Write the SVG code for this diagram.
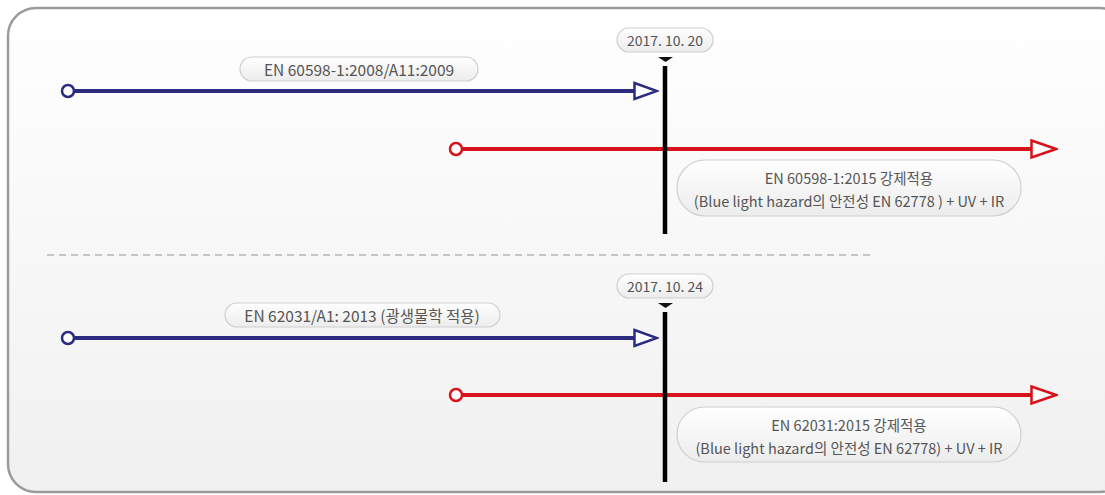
<svg xmlns="http://www.w3.org/2000/svg" width="1105" height="495" viewBox="0 0 1105 495">
<defs>
<linearGradient id="bg" x1="0" y1="0" x2="0" y2="1">
<stop offset="0" stop-color="#ffffff"/>
<stop offset="1" stop-color="#f0f0f0"/>
</linearGradient>
<linearGradient id="pill" x1="0" y1="0" x2="0" y2="1">
<stop offset="0" stop-color="#ffffff"/>
<stop offset="1" stop-color="#ececec"/>
</linearGradient>
<marker id="arrBlue" viewBox="0 0 26 20" refX="1" refY="10" markerWidth="26" markerHeight="20" markerUnits="userSpaceOnUse" orient="auto">
<path d="M1.5,2 L24,10 L1.5,18 Z" fill="#ffffff" stroke="#2b2b80" stroke-width="2.5" stroke-linejoin="miter"/>
</marker>
<marker id="arrRed" viewBox="0 0 28 20" refX="1" refY="10" markerWidth="28" markerHeight="20" markerUnits="userSpaceOnUse" orient="auto">
<path d="M1.5,1.5 L26,10 L1.5,18.5 Z" fill="#ffffff" stroke="#d7121b" stroke-width="2.5" stroke-linejoin="miter"/>
</marker>
</defs>
<style>
.txt{font-family:"Noto Sans CJK KR","Noto Sans",sans-serif;font-size:14.5px;fill:#555555;text-anchor:middle;dominant-baseline:central}
.lbl{font-size:15.5px}
.dt{font-size:14px}
.pill{fill:url(#pill);stroke:#cfcfcf;stroke-width:1.2}
.blue{stroke:#2b2b80;stroke-width:4;fill:none}
.red{stroke:#d7121b;stroke-width:4;fill:none}
.dotb{fill:#ffffff;stroke:#2b2b80;stroke-width:2.5}
.dotr{fill:#ffffff;stroke:#d7121b;stroke-width:2.5}
.vline{stroke:#000000;stroke-width:4.5}
</style>
<rect x="0" y="0" width="1105" height="495" fill="#ffffff"/>
<rect id="frame" x="8" y="8" width="1120" height="484" rx="28" ry="28" fill="url(#bg)" stroke="#9a9a9a" stroke-width="2.5"/>
<line x1="47" y1="255" x2="872" y2="255" stroke="#c4c4c4" stroke-width="2" stroke-dasharray="7,5"/>

<g id="connectors">
<line class="blue" x1="74" y1="91" x2="634" y2="91" marker-end="url(#arrBlue)"/>
<line class="red" x1="462" y1="149" x2="1031" y2="149" marker-end="url(#arrRed)"/>
<line class="vline" x1="665" y1="66" x2="665" y2="234"/>
<line class="blue" x1="74" y1="338" x2="634" y2="338" marker-end="url(#arrBlue)"/>
<line class="red" x1="462" y1="395" x2="1031" y2="395" marker-end="url(#arrRed)"/>
<line class="vline" x1="665" y1="312" x2="665" y2="482"/>
</g>

<g id="start-blue-1"><circle class="dotb" cx="68" cy="91" r="6"/></g>
<g id="start-red-1"><circle class="dotr" cx="456" cy="149" r="6"/></g>
<g id="start-blue-2"><circle class="dotb" cx="68" cy="338" r="6"/></g>
<g id="start-red-2"><circle class="dotr" cx="456" cy="395" r="6"/></g>

<g id="date-1">
<rect class="pill" x="617" y="28" width="96" height="24" rx="12"/>
<text class="txt dt" x="665" y="40">2017. 10. 20</text>
<path d="M658,57 L673,57 L665.5,62 Z" fill="#111111"/>
</g>
<g id="label-1">
<rect class="pill" x="240" y="57" width="238" height="24" rx="12"/>
<text class="txt lbl" x="359" y="69">EN 60598-1:2008/A11:2009</text>
</g>
<g id="box-1">
<rect class="pill" x="677" y="160" width="344" height="56" rx="28"/>
<text class="txt" x="849" y="177">EN 60598-1:2015 강제적용</text>
<text class="txt" x="849" y="200">(Blue light hazard의 안전성 EN 62778 ) + UV + IR</text>
</g>

<g id="date-2">
<rect class="pill" x="617" y="274" width="96" height="24" rx="12"/>
<text class="txt dt" x="665" y="286">2017. 10. 24</text>
<path d="M658,303 L673,303 L665.5,308 Z" fill="#111111"/>
</g>
<g id="label-2">
<rect class="pill" x="225" y="303" width="275" height="24" rx="12"/>
<text class="txt lbl" x="362" y="315">EN 62031/A1: 2013 (광생물학 적용)</text>
</g>
<g id="box-2">
<rect class="pill" x="677" y="407" width="344" height="55" rx="27.5"/>
<text class="txt" x="849" y="424">EN 62031:2015 강제적용</text>
<text class="txt" x="849" y="447">(Blue light hazard의 안전성 EN 62778) + UV + IR</text>
</g>
</svg>
